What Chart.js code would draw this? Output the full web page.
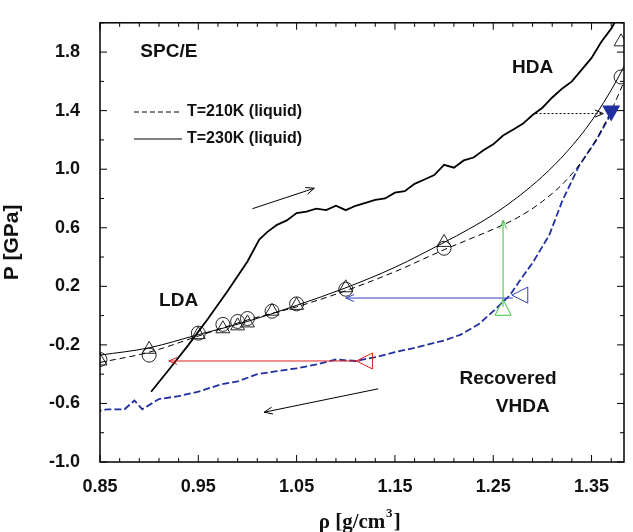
<!DOCTYPE html>
<html><head><meta charset="utf-8">
<script src="https://cdn.jsdelivr.net/npm/chart.js@4/dist/chart.umd.min.js"></script>
<style>html,body{margin:0;background:#fff}#wrap{width:633px;height:532px}</style>
</head><body><div id="wrap"><canvas id="chart"></canvas></div>
<script>
const ctx = document.getElementById('chart');

// simulation points
const circ210 = [[0.85,-0.30],[0.90,-0.27],[0.95,-0.12],[0.975,-0.06],[0.99,-0.04],[1.0,-0.02],[1.025,0.03],[1.05,0.08],[1.10,0.18],[1.20,0.46],[1.38,1.63]];
const tri230 = [[0.85,-0.31],[0.90,-0.23],[0.95,-0.13],[0.975,-0.09],[0.99,-0.07],[1.0,-0.05],[1.025,0.03],[1.05,0.07],[1.10,0.19],[1.20,0.50],[1.38,1.87]];
// fitted curves
const fit210 = [[0.85,-0.32],[0.90,-0.25],[0.95,-0.14],[1.0,-0.03],[1.05,0.06],[1.10,0.17],[1.15,0.30],[1.20,0.45],[1.225,0.52],[1.25,0.59],[1.275,0.67],[1.30,0.78],[1.325,0.93],[1.35,1.15],[1.37,1.40],[1.385,1.63],[1.40,1.88]];
const fit230 = [[0.85,-0.27],[0.90,-0.22],[0.95,-0.13],[1.0,-0.04],[1.05,0.07],[1.10,0.19],[1.15,0.33],[1.20,0.50],[1.225,0.59],[1.25,0.69],[1.275,0.81],[1.30,0.95],[1.325,1.12],[1.35,1.33],[1.375,1.60],[1.39,1.80],[1.40,1.95]];
// compression run (LDA -> HDA)
const compress = [[0.902,-0.52],[0.92,-0.37],[0.94,-0.20],[0.96,-0.02],[0.98,0.17],[1.0,0.37],[1.012,0.52],[1.02,0.57],[1.03,0.62],[1.04,0.65],[1.05,0.70],[1.06,0.71],[1.07,0.73],[1.08,0.72],[1.09,0.75],[1.10,0.72],[1.11,0.75],[1.12,0.77],[1.13,0.79],[1.14,0.80],[1.15,0.84],[1.16,0.85],[1.17,0.90],[1.18,0.93],[1.19,0.96],[1.20,1.03],[1.21,1.01],[1.22,1.06],[1.23,1.08],[1.24,1.13],[1.25,1.17],[1.26,1.23],[1.27,1.27],[1.28,1.31],[1.29,1.37],[1.30,1.42],[1.31,1.49],[1.32,1.55],[1.33,1.60],[1.34,1.68],[1.35,1.76],[1.36,1.87],[1.37,1.96],[1.375,2.02]];
// decompression run (HDA -> VHDA)
const decompress = [[1.37,1.38],[1.355,1.20],[1.337,1.02],[1.32,0.78],[1.307,0.55],[1.29,0.36],[1.275,0.22],[1.267,0.14],[1.25,0.03],[1.235,-0.06],[1.217,-0.13],[1.20,-0.17],[1.17,-0.22],[1.15,-0.25],[1.133,-0.28],[1.11,-0.31],[1.09,-0.30],[1.073,-0.33],[1.05,-0.36],[1.03,-0.38],[1.01,-0.40],[0.99,-0.45],[0.973,-0.47],[0.95,-0.52],[0.93,-0.55],[0.91,-0.57],[0.893,-0.64],[0.885,-0.58],[0.875,-0.64],[0.857,-0.64],[0.85,-0.65]];

const xTicks = [0.85, 0.95, 1.05, 1.15, 1.25, 1.35];
const yTicks = [-1.0, -0.6, -0.2, 0.2, 0.6, 1.0, 1.4, 1.8];

// [x1,y1,x2,y2,color,dash]
const arrows = [
  [1.115,-0.31,0.92,-0.31,'#e02020',[]],
  [1.27,0.12,1.10,0.12,'#3040c0',[]],
  [1.26,0.06,1.26,0.65,'#40c040',[]],
  [1.293,1.38,1.362,1.38,'#000',[2,2]],
  [1.005,0.73,1.068,0.87,'#000',[]],
  [1.133,-0.50,1.017,-0.66,'#000',[]]
];
// open markers at arrow starts: [x,y,color,rotation]
const openTris = [[1.12,-0.31,'#e02020',-90],[1.278,0.14,'#3040c0',-90],[1.26,0.05,'#40c040',0]];
const labels = [['SPC/E',0.92,1.80],['HDA',1.29,1.69],['LDA',0.93,0.10],['Recovered',1.265,-0.43],['VHDA',1.28,-0.62]];

const pts = a => a.map(p => ({x: p[0], y: p[1]}));

const deco = {
  id: 'deco',
  afterDatasetsDraw(chart) {
    const c = chart.ctx, xs = chart.scales.x, ys = chart.scales.y, a = chart.chartArea;
    const X = v => xs.getPixelForValue(v), Y = v => ys.getPixelForValue(v);
    c.save();
    c.beginPath(); c.rect(a.left, a.top, a.right - a.left, a.bottom - a.top); c.clip();
    for (const [x1,y1,x2,y2,col,dash] of arrows) {
      const px1 = X(x1), py1 = Y(y1), px2 = X(x2), py2 = Y(y2);
      c.strokeStyle = col; c.lineWidth = 1; c.setLineDash(dash);
      c.beginPath(); c.moveTo(px1,py1); c.lineTo(px2,py2); c.stroke();
      c.setLineDash([]);
      const ang = Math.atan2(py2-py1, px2-px1);
      c.beginPath();
      c.moveTo(px2 - 9*Math.cos(ang-0.4), py2 - 9*Math.sin(ang-0.4));
      c.lineTo(px2,py2);
      c.lineTo(px2 - 9*Math.cos(ang+0.4), py2 - 9*Math.sin(ang+0.4));
      c.stroke();
    }
    for (const [x,y,col,rot] of openTris) {
      c.save(); c.translate(X(x),Y(y)); c.rotate(rot*Math.PI/180);
      c.strokeStyle = col; c.lineWidth = 1;
      c.beginPath(); c.moveTo(0,-9); c.lineTo(8,7); c.lineTo(-8,7); c.closePath(); c.stroke();
      c.restore();
    }
    // filled down triangle
    c.fillStyle = '#2030a0';
    c.beginPath(); c.moveTo(X(1.37)-9,Y(1.38)-8); c.lineTo(X(1.37)+9,Y(1.38)-8); c.lineTo(X(1.37),Y(1.38)+8); c.closePath(); c.fill();
    c.restore();

    c.save();
    c.fillStyle = '#111'; c.font = 'bold 19px "Liberation Sans", Arial, sans-serif'; c.textAlign = 'center'; c.textBaseline = 'middle';
    for (const [t,x,y] of labels) c.fillText(t, X(x), Y(y));
    // legend
    c.font = 'bold 16px "Liberation Sans", Arial, sans-serif'; c.textAlign = 'left';
    c.strokeStyle = '#000'; c.lineWidth = 1;
    c.setLineDash([5,3]); c.beginPath(); c.moveTo(134,112); c.lineTo(182,112); c.stroke();
    c.setLineDash([]); c.beginPath(); c.moveTo(134,139); c.lineTo(182,139); c.stroke();
    c.fillText('T=210K (liquid)', 187, 112);
    c.fillText('T=230K (liquid)', 187, 139);
    // frame and inward ticks
    c.lineWidth = 1.5; c.strokeRect(a.left, a.top, a.right - a.left, a.bottom - a.top);
    c.lineWidth = 1;
    for (let i = 0; i <= 30; i++) {
      const v = 0.85 + i*0.02, px = X(v); if (px > a.right) break;
      const L = i % 5 === 0 ? 7 : 4;
      c.beginPath(); c.moveTo(px,a.bottom); c.lineTo(px,a.bottom-L); c.moveTo(px,a.top); c.lineTo(px,a.top+L); c.stroke();
    }
    for (let i = 0; i <= 15; i++) {
      const py = Y(-1 + i*0.2), L = i % 2 === 0 ? 7 : 4;
      c.beginPath(); c.moveTo(a.left,py); c.lineTo(a.left+L,py); c.moveTo(a.right,py); c.lineTo(a.right-L,py); c.stroke();
    }
    // x title
    c.textAlign = 'center'; c.textBaseline = 'alphabetic';
    c.font = 'bold 21px "Liberation Serif", "Times New Roman", serif';
    c.fillText('\u03C1 [g/cm', 352, 528);
    const w = c.measureText('\u03C1 [g/cm').width;
    c.font = 'bold 13px "Liberation Serif", serif'; c.fillText('3', 352 + w/2 + 4, 517);
    c.font = 'bold 21px "Liberation Serif", serif'; c.fillText(']', 352 + w/2 + 12, 528);
    c.restore();
  }
};

const line = (d, extra) => Object.assign({data: pts(d), borderColor: '#000', borderWidth: 1, pointRadius: 0, fill: false, tension: 0}, extra);

new Chart(ctx, {
  type: 'scatter',
  data: {datasets: [
    line(fit210, {showLine: true, borderDash: [6,4], cubicInterpolationMode: 'monotone'}),
    line(fit230, {showLine: true, cubicInterpolationMode: 'monotone'}),
    line(compress, {showLine: true, borderWidth: 1.8}),
    line(decompress, {showLine: true, borderWidth: 1.8, borderColor: '#2030a0', borderDash: [7,3]}),
    {data: pts(circ210), showLine: false, pointStyle: 'circle', pointRadius: 7, borderColor: '#222', borderWidth: 1, backgroundColor: 'rgba(0,0,0,0)'},
    {data: pts(tri230), showLine: false, pointStyle: 'triangle', pointRadius: 8, borderColor: '#222', borderWidth: 1, backgroundColor: 'rgba(0,0,0,0)'}
  ]},
  options: {
    responsive: true, maintainAspectRatio: false, animation: false,
    layout: {padding: {top: 11, right: 0, left: 0, bottom: 0}},
    plugins: {legend: {display: false}, tooltip: {enabled: false}},
    scales: {
      x: {
        type: 'linear', min: 0.85, max: 1.383,
        afterBuildTicks: s => { s.ticks = xTicks.map(v => ({value: v})); },
        afterFit: s => { s.height = 70; },
        grid: {display: false}, border: {display: false},
        ticks: {color: '#111', font: {family: '"Liberation Sans", Arial', size: 18, weight: 'bold'}, padding: 6, callback: v => v.toFixed(2)},
        title: {display: false}
      },
      y: {
        min: -1.0, max: 2.0,
        afterBuildTicks: s => { s.ticks = yTicks.map(v => ({value: v})); },
        afterFit: s => { s.width = 100; },
        grid: {display: false}, border: {display: false},
        ticks: {color: '#111', font: {family: '"Liberation Sans", Arial', size: 18, weight: 'bold'}, padding: 12, callback: v => v.toFixed(1)},
        title: {display: true, text: 'P [GPa]', color: '#111', font: {family: '"Liberation Sans", Arial', size: 21, weight: 'bold'}, padding: 0}
      }
    }
  },
  plugins: [deco]
});
</script></body></html>
